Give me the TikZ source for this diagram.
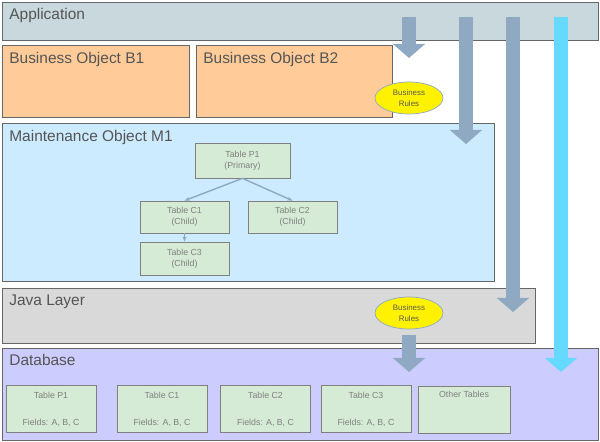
\documentclass[tikz,border=0pt]{standalone}
\usepackage{fontspec}
\setmainfont{Liberation Sans}
\usetikzlibrary{arrows.meta, positioning, shapes.geometric}
\definecolor{appGray}{RGB}{200, 216, 220}
\definecolor{boOrange}{RGB}{255, 204, 153}
\definecolor{moBlue}{RGB}{204, 235, 255}
\definecolor{javaGray}{RGB}{217, 217, 217}
\definecolor{dbLilac}{RGB}{204, 204, 255}
\definecolor{tabGreen}{RGB}{213, 235, 213}
\definecolor{flowBlue}{RGB}{142, 169, 193}
\definecolor{flowCyan}{RGB}{102, 217, 255}
\definecolor{textGray}{RGB}{85, 85, 85}

\begin{document}
\begin{tikzpicture}[
        x=0.02cm, y=-0.02cm,
        layer/.style={rectangle, draw=gray!80!black, line width=0.6pt, anchor=north west, inner sep=0pt},
        title/.style={anchor=north west, text=textGray, font=\fontsize{8.8}{10}\selectfont, inner sep=0pt},
        tab/.style={rectangle, draw=gray, fill=tabGreen, align=center, text=gray, font=\fontsize{5}{6.5}\selectfont, inner sep=1pt},
        rules/.style={ellipse, draw=flowBlue, fill=yellow, minimum width=68*0.02cm, minimum height=32*0.02cm, inner sep=0pt, align=center, text=gray!70!black, font=\fontsize{4.5}{6}\selectfont},
        flow/.style={-{Triangle[length=8pt, width=18pt]}, line width=8.5pt, flowBlue},
        link/.style={-{Stealth[length=3pt]}, flowBlue, line width=0.8pt}
    ]
        \useasboundingbox (0,0) rectangle (600,442);
        % Layers
        \node[layer, fill=appGray, minimum width=596*0.02cm, minimum height=38*0.02cm] (app) at (2,2) {};
        \node[title] at (9,8) {Application};
        \node[layer, fill=boOrange, minimum width=187*0.02cm, minimum height=72*0.02cm] (bo1) at (2,45) {};
        \node[title] at (9,52) {Business Object B1};
        \node[layer, fill=boOrange, minimum width=196*0.02cm, minimum height=72*0.02cm] (bo2) at (196,45) {};
        \node[title] at (203,52) {Business Object B2};
        \node[layer, fill=moBlue, minimum width=492*0.02cm, minimum height=158*0.02cm] (mo1) at (2,123) {};
        \node[title] at (9,130) {Maintenance Object M1};
        \node[layer, fill=javaGray, minimum width=533*0.02cm, minimum height=55*0.02cm] (java) at (2,288) {};
        \node[title] at (9,295) {Java Layer};
        \node[layer, fill=dbLilac, minimum width=596*0.02cm, minimum height=92*0.02cm] (db) at (2,348) {};
        \node[title] at (9,354) {Database};

        % Business rules
        \node[rules] (br1) at (409,98) {Business\\Rules};
        \node[rules] (br2) at (409,313) {Business\\Rules};

        % Maintenance object tables
        \node[tab, minimum width=95*0.02cm, minimum height=35*0.02cm] (p1) at (242.5,160.5) {Table P1\\(Primary)};
        \node[tab, minimum width=89*0.02cm, minimum height=32*0.02cm] (c1) at (184.5,217) {Table C1\\(Child)};
        \node[tab, minimum width=89*0.02cm, minimum height=32*0.02cm] (c2) at (292.5,217) {Table C2\\(Child)};
        \node[tab, minimum width=89*0.02cm, minimum height=33*0.02cm] (c3) at (184.5,258.5) {Table C3\\(Child)};
        \draw[link] (p1.south) -- (c1.north);
        \draw[link] (p1.south) -- (c2.north);
        \draw[link] (c1) -- (c3);

        % Database tables
        \foreach \name/\x/\txt in {dp1/51/Table P1, dc1/162/Table C1, dc2/265.5/Table C2, dc3/366/Table C3}
            \node[tab, minimum width=90*0.02cm, minimum height=47*0.02cm] (\name) at (\x,409) {\txt\\[9pt]Fields: A, B, C};
        \node[tab, minimum width=92*0.02cm, minimum height=47*0.02cm] (other) at (464,409.5) {Other Tables\\[9pt]\strut};

        % Flows
        \coordinate (f1s) at (409,17); \coordinate (f1e) at (409,58);
        \coordinate (f2s) at (466,17); \coordinate (f2e) at (466,144);
        \coordinate (f3s) at (513,17); \coordinate (f3e) at (513,312);
        \coordinate (f4s) at (561,17); \coordinate (f4e) at (561,372);
        \coordinate (f5s) at (409,335); \coordinate (f5e) at (409,372);
        \draw[flow] (f1s) -- (f1e);
        \draw[flow] (f2s) -- (f2e);
        \draw[flow] (f3s) -- (f3e);
        \draw[flow, flowCyan] (f4s) -- (f4e);
        \draw[flow] (f5s) -- (f5e);
    \end{tikzpicture}
\end{document}
